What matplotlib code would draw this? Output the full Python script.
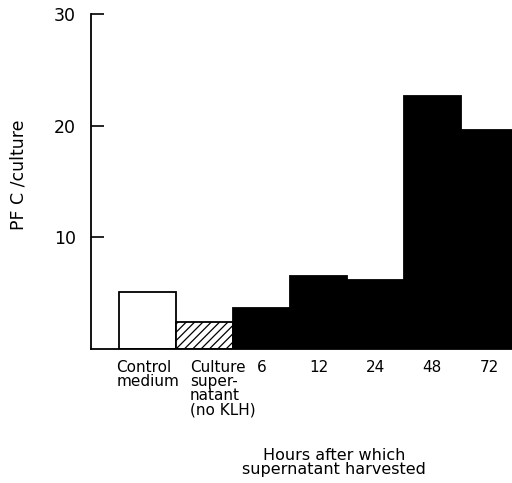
import matplotlib
matplotlib.use("agg")
import matplotlib.pyplot as plt
import matplotlib.transforms as mtransforms

plt.rcParams['font.family'] = ['DejaVu Sans']
plt.rcParams['hatch.linewidth'] = 0.9

# data
categories = ['Control\nmedium', 'Culture\nsuper-\nnatant\n(no KLH)', '6', '12', '24', '48', '72']
pfc = [5.1, 2.4, 3.7, 6.5, 6.2, 22.7, 19.6]
fills = ['white', 'white', 'black', 'black', 'black', 'black', 'black']
hatches = ['', '////', '', '', '', '', '']

fig = plt.figure(figsize=(5.12, 4.83), dpi=100)
ax = fig.add_axes([91 / 512, 134 / 483, 1 - 91 / 512, 335 / 483])

pos = list(range(1, len(pfc) + 1))
for x, v, c, h in zip(pos, pfc, fills, hatches):
    ax.bar(x, v, width=1.0, color=c, edgecolor='black', linewidth=1.3, hatch=h)

ax.set_xlim(0, 7.4)
ax.set_ylim(0, 30)
ax.set_yticks([10, 20, 30])
ax.set_yticklabels(['10', '20', '30'], fontsize=12.5)
ax.tick_params(axis='y', direction='in', length=9, width=1.2, pad=11)

ax.set_xticks(pos)
ax.set_xticklabels(categories, fontsize=11, linespacing=0.92, va='top')
ax.tick_params(axis='x', length=0, pad=8)
for lab in ax.get_xticklabels():
    lab.set_multialignment('left')
# the culture label sits a bit right of its bar
off = mtransforms.ScaledTranslation(18 / 100, 0, fig.dpi_scale_trans)
culture = ax.get_xticklabels()[1]
culture.set_transform(culture.get_transform() + off)

for s in ['top', 'right']:
    ax.spines[s].set_visible(False)
ax.spines['left'].set_linewidth(1.3)
ax.spines['bottom'].set_linewidth(1.3)

ax.set_ylabel('PF C /culture', fontsize=12.5)
ax.yaxis.set_label_coords(-0.15, 0.52)

fig.text(334 / 512, 1 - 448 / 483, 'Hours after which\nsupernatant harvested',
         ha='center', va='top', fontsize=11.5, linespacing=0.92)

fig.savefig('out.png', dpi=100)
